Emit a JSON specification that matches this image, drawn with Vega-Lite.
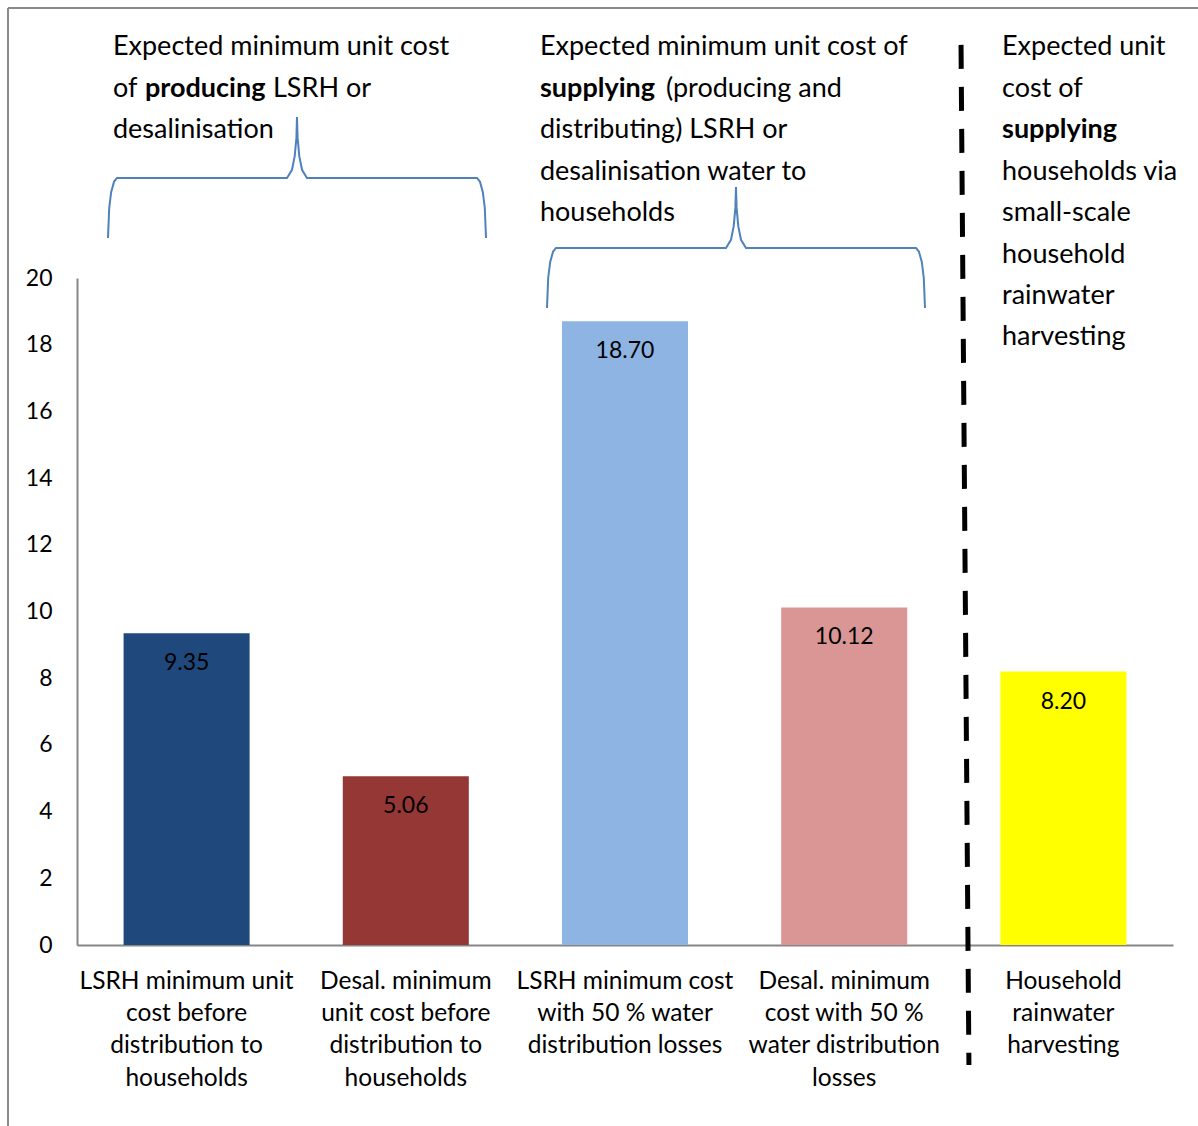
{
  "$schema": "https://vega.github.io/schema/vega-lite/v6.json",
  "width": 1096,
  "height": 667,
  "autosize": {"type": "none"},
  "padding": {"left": 77, "top": 278, "right": 25, "bottom": 181},
  "background": "white",
  "config": {"view": {"stroke": null}, "font": "Lato"},
  "datasets": {
    "bars": [
      {"category": "LSRH minimum unit\ncost before\ndistribution to\nhouseholds", "value": 9.35},
      {"category": "Desal. minimum\nunit cost before\ndistribution to\nhouseholds", "value": 5.06},
      {"category": "LSRH minimum cost\nwith 50 % water\ndistribution losses", "value": 18.70},
      {"category": "Desal. minimum\ncost with 50 %\nwater distribution\nlosses", "value": 10.12},
      {"category": "Household\nrainwater\nharvesting", "value": 8.20}
    ],
    "braces": [
      {"brace": 1, "i": 1, "x": 0.1414, "y": 21.199},
      {"brace": 1, "i": 2, "x": 0.1469, "y": 22.099},
      {"brace": 1, "i": 3, "x": 0.1560, "y": 22.579},
      {"brace": 1, "i": 4, "x": 0.1693, "y": 22.891},
      {"brace": 1, "i": 5, "x": 0.1825, "y": 22.999},
      {"brace": 1, "i": 6, "x": 0.9580, "y": 22.999},
      {"brace": 1, "i": 7, "x": 0.9808, "y": 23.244},
      {"brace": 1, "i": 8, "x": 0.9932, "y": 23.652},
      {"brace": 1, "i": 9, "x": 1.0009, "y": 24.201},
      {"brace": 1, "i": 10, "x": 1.0036, "y": 24.828},
      {"brace": 1, "i": 11, "x": 1.0064, "y": 24.201},
      {"brace": 1, "i": 12, "x": 1.0141, "y": 23.652},
      {"brace": 1, "i": 13, "x": 1.0265, "y": 23.244},
      {"brace": 1, "i": 14, "x": 1.0493, "y": 22.999},
      {"brace": 1, "i": 15, "x": 1.8248, "y": 22.999},
      {"brace": 1, "i": 16, "x": 1.8380, "y": 22.891},
      {"brace": 1, "i": 17, "x": 1.8513, "y": 22.579},
      {"brace": 1, "i": 18, "x": 1.8604, "y": 22.099},
      {"brace": 1, "i": 19, "x": 1.8659, "y": 21.199},
      {"brace": 2, "i": 1, "x": 2.1441, "y": 19.100},
      {"brace": 2, "i": 2, "x": 2.1496, "y": 20.000},
      {"brace": 2, "i": 3, "x": 2.1587, "y": 20.480},
      {"brace": 2, "i": 4, "x": 2.1720, "y": 20.792},
      {"brace": 2, "i": 5, "x": 2.1852, "y": 20.900},
      {"brace": 2, "i": 6, "x": 2.9607, "y": 20.900},
      {"brace": 2, "i": 7, "x": 2.9835, "y": 21.145},
      {"brace": 2, "i": 8, "x": 2.9959, "y": 21.553},
      {"brace": 2, "i": 9, "x": 3.0036, "y": 22.102},
      {"brace": 2, "i": 10, "x": 3.0063, "y": 22.729},
      {"brace": 2, "i": 11, "x": 3.0091, "y": 22.102},
      {"brace": 2, "i": 12, "x": 3.0168, "y": 21.553},
      {"brace": 2, "i": 13, "x": 3.0292, "y": 21.145},
      {"brace": 2, "i": 14, "x": 3.0520, "y": 20.900},
      {"brace": 2, "i": 15, "x": 3.8275, "y": 20.900},
      {"brace": 2, "i": 16, "x": 3.8407, "y": 20.792},
      {"brace": 2, "i": 17, "x": 3.8540, "y": 20.480},
      {"brace": 2, "i": 18, "x": 3.8631, "y": 20.000},
      {"brace": 2, "i": 19, "x": 3.8686, "y": 19.100}
    ],
    "notes": [
      {"text": "Expected minimum unit cost", "x": 0.164, "y": 26.69},
      {"text": "of", "x": 0.164, "y": 25.44},
      {"text": "LSRH or", "x": 0.894, "y": 25.44},
      {"text": "desalinisation", "x": 0.164, "y": 24.20},
      {"text": "Expected minimum unit cost of", "x": 2.112, "y": 26.69},
      {"text": "(producing and", "x": 2.687, "y": 25.44},
      {"text": "distributing) LSRH or", "x": 2.112, "y": 24.20},
      {"text": "desalinisation water to", "x": 2.112, "y": 22.95},
      {"text": "households", "x": 2.112, "y": 21.71},
      {"text": "Expected unit", "x": 4.220, "y": 26.69},
      {"text": "cost of", "x": 4.220, "y": 25.44},
      {"text": "households via", "x": 4.220, "y": 22.95},
      {"text": "small-scale", "x": 4.220, "y": 21.71},
      {"text": "household", "x": 4.220, "y": 20.46},
      {"text": "rainwater", "x": 4.220, "y": 19.22},
      {"text": "harvesting", "x": 4.220, "y": 17.98}
    ],
    "boldnotes": [
      {"text": "producing", "x": 0.310, "y": 25.44},
      {"text": "supplying", "x": 2.112, "y": 25.44},
      {"text": "supplying", "x": 4.220, "y": 24.20}
    ],
    "frame": [
      {"x": -0.3148, "y": 28.096, "x2": 5.2, "y2": 28.096},
      {"x": -0.3148, "y": 28.096, "x2": -0.3148, "y2": -5.6}
    ],
    "divider": [
      {"x": 4.033, "y": 26.99, "x2": 4.069, "y2": -3.598}
    ]
  },
  "resolve": {"scale": {"x": "independent"}},
  "layer": [
    {
      "data": {"name": "bars"},
      "mark": {"type": "bar"},
      "encoding": {
        "x": {
          "field": "category", "type": "nominal", "sort": null,
          "scale": {"paddingInner": 0.425, "paddingOuter": 0.2125},
          "axis": {
            "title": null, "ticks": false, "labelAngle": 0,
            "domainColor": "#868686", "domainWidth": 2,
            "labelFont": "Lato", "labelFontSize": 24.5, "labelColor": "#000000",
            "labelLineHeight": 32.4, "labelLimit": 400, "labelPadding": 24,
            "labelExpr": "split(datum.label, '\\n')"
          }
        },
        "y": {
          "field": "value", "type": "quantitative",
          "scale": {"domain": [0, 20], "nice": false},
          "axis": {
            "title": null, "ticks": false, "grid": false,
            "values": [0, 2, 4, 6, 8, 10, 12, 14, 16, 18, 20],
            "domainColor": "#868686", "domainWidth": 2,
            "labelFont": "Lato", "labelFontSize": 23, "labelColor": "#000000",
            "labelPadding": 25
          }
        },
        "color": {
          "field": "category", "type": "nominal", "sort": null, "legend": null,
          "scale": {"range": ["#1F497D", "#953735", "#8EB4E3", "#D99694", "#FFFF00"]}
        }
      }
    },
    {
      "data": {"name": "bars"},
      "mark": {"type": "text", "align": "center", "baseline": "middle", "dy": 30, "font": "Lato", "fontSize": 23, "color": "#000000"},
      "encoding": {
        "x": {"field": "category", "type": "nominal", "sort": null,
              "scale": {"paddingInner": 0.425, "paddingOuter": 0.2125}, "axis": null},
        "y": {"field": "value", "type": "quantitative", "scale": {"domain": [0, 20], "nice": false}},
        "text": {"field": "value", "type": "quantitative", "format": ".2f"}
      }
    },
    {
      "data": {"name": "frame"},
      "mark": {"type": "rule", "color": "#8A8A8A", "strokeWidth": 2, "clip": false},
      "encoding": {
        "x": {"field": "x", "type": "quantitative", "scale": {"domain": [0, 5], "nice": false, "zero": false}, "axis": null},
        "x2": {"field": "x2"},
        "y": {"field": "y", "type": "quantitative", "scale": {"domain": [0, 20], "nice": false}},
        "y2": {"field": "y2"}
      }
    },
    {
      "data": {"name": "divider"},
      "mark": {"type": "rule", "color": "#000000", "strokeWidth": 5, "strokeDash": [24, 18], "clip": false},
      "encoding": {
        "x": {"field": "x", "type": "quantitative", "scale": {"domain": [0, 5], "nice": false, "zero": false}, "axis": null},
        "x2": {"field": "x2"},
        "y": {"field": "y", "type": "quantitative", "scale": {"domain": [0, 20], "nice": false}},
        "y2": {"field": "y2"}
      }
    },
    {
      "data": {"name": "braces"},
      "mark": {"type": "line", "color": "#4F81BD", "strokeWidth": 2, "clip": false},
      "encoding": {
        "x": {"field": "x", "type": "quantitative", "scale": {"domain": [0, 5], "nice": false, "zero": false}, "axis": null},
        "y": {"field": "y", "type": "quantitative", "scale": {"domain": [0, 20], "nice": false}},
        "detail": {"field": "brace", "type": "nominal"},
        "order": {"field": "i", "type": "quantitative"}
      }
    },
    {
      "data": {"name": "notes"},
      "mark": {"type": "text", "align": "left", "baseline": "alphabetic", "font": "Lato", "fontSize": 27, "color": "#000000", "clip": false},
      "encoding": {
        "x": {"field": "x", "type": "quantitative", "scale": {"domain": [0, 5], "nice": false, "zero": false}, "axis": null},
        "y": {"field": "y", "type": "quantitative", "scale": {"domain": [0, 20], "nice": false}},
        "text": {"field": "text", "type": "nominal"}
      }
    },
    {
      "data": {"name": "boldnotes"},
      "mark": {"type": "text", "align": "left", "baseline": "alphabetic", "font": "Lato", "fontSize": 27, "fontWeight": "bold", "color": "#000000", "clip": false},
      "encoding": {
        "x": {"field": "x", "type": "quantitative", "scale": {"domain": [0, 5], "nice": false, "zero": false}, "axis": null},
        "y": {"field": "y", "type": "quantitative", "scale": {"domain": [0, 20], "nice": false}},
        "text": {"field": "text", "type": "nominal"}
      }
    }
  ]
}
